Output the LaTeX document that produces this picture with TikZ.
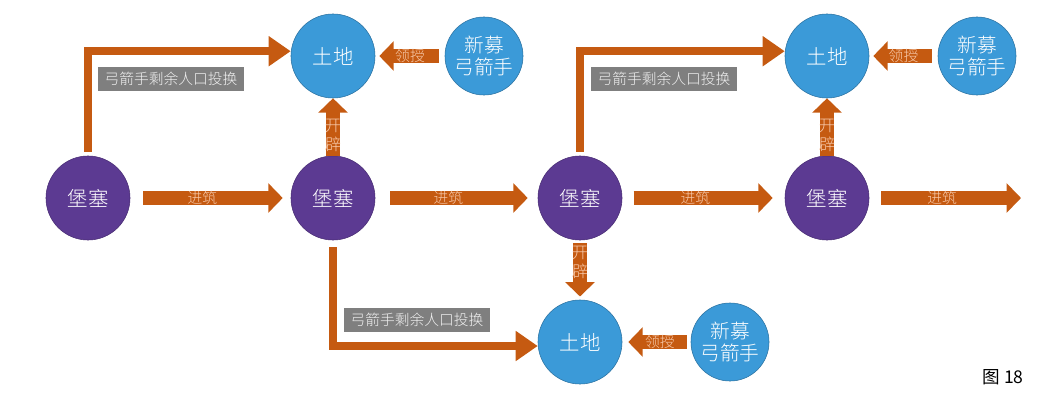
\documentclass[tikz,border=0pt]{standalone}
\usepackage{fontspec}
\setmainfont{Noto Sans CJK SC}[UprightFont={* Light}]
\newfontfamily\capfont{Noto Sans CJK SC}
\usetikzlibrary{arrows.meta}
\definecolor{fortpurple}{HTML}{5C3A92}
\definecolor{landblue}{HTML}{3B9AD8}
\definecolor{arroworange}{HTML}{C55A11}
\definecolor{labelpeach}{HTML}{F8CBAD}
\definecolor{notegray}{HTML}{7F7F7F}
\tikzset{
  fortnode/.style={circle, draw=fortpurple!80!black, fill=fortpurple, text=white,
    minimum size=2.1cm, inner sep=0pt, font=\fontsize{14.5}{16}\selectfont},
  landnode/.style={fortnode, draw=landblue!75!black, fill=landblue},
  recruitnode/.style={landnode, minimum size=1.95cm, align=center,
    font=\fontsize{14}{16}\selectfont},
  blockarr/.style={-{Triangle[length=0.36cm,width=0.72cm]}, line width=0.35cm, draw=arroworange},
  bentarr/.style={-{Triangle[length=0.55cm,width=0.72cm]}, line width=0.2cm, draw=arroworange},
  arrlabel/.style={text=labelpeach, font=\fontsize{10.5}{12}\selectfont, inner sep=0pt, align=center},
  openlabel/.style={arrlabel, font=\fontsize{11.5}{13.5}\selectfont},
  notebox/.style={fill=notegray, text=white!88!gray, minimum width=3.65cm, minimum height=0.6cm,
    inner sep=0pt, font=\fontsize{10.5}{12}\selectfont}
}
\begin{document}
\begin{tikzpicture}[x=0.025cm, y=-0.025cm]
    \useasboundingbox (0,0) rectangle (1045,402);
    % fortresses
    \node[fortnode] (fort1) at (88,198) {堡塞};
    \node[fortnode] (fort2) at (333,198) {堡塞};
    \node[fortnode] (fort3) at (580,198) {堡塞};
    \node[fortnode] (fort4) at (827,198) {堡塞};
    % land and recruits
    \node[landnode] (land1) at (333,56) {土地};
    \node[landnode] (land2) at (827,56) {土地};
    \node[landnode] (land3) at (580,342) {土地};
    \node[recruitnode] (recruit1) at (484,56) {新募\\弓箭手};
    \node[recruitnode] (recruit2) at (977,56) {新募\\弓箭手};
    \node[recruitnode] (recruit3) at (730,342) {新募\\弓箭手};
    \coordinate (buildend) at (1021,198);
    % notes
    \node[notebox] (note1) at (171,79) {弓箭手剩余人口投换};
    \node[notebox] (note2) at (664,79) {弓箭手剩余人口投换};
    \node[notebox] (note3) at (417,320) {弓箭手剩余人口投换};
    \node[font=\capfont\fontsize{12.5}{14}\selectfont] (caption) at (1003,377) {图 18};
    % build
    \draw[blockarr, shorten <=0.33cm, shorten >=0.2cm] (fort1) -- node[arrlabel, pos=0.45] {进筑} (fort2);
    \draw[blockarr, shorten <=0.37cm, shorten >=0.25cm] (fort2) -- node[arrlabel, pos=0.45] {进筑} (fort3);
    \draw[blockarr, shorten <=0.28cm, shorten >=0.3cm] (fort3) -- node[arrlabel, pos=0.45] {进筑} (fort4);
    \draw[blockarr, shorten <=0.3cm] (fort4) -- node[arrlabel, pos=0.48] {进筑} (buildend);
    % open up
    \draw[blockarr] (fort2) -- node[openlabel, pos=0.35] {开\\辟} (land1);
    \draw[blockarr] (fort4) -- node[openlabel, pos=0.35] {开\\辟} (land2);
    \draw[blockarr, shorten <=0.08cm, shorten >=0.08cm] (fort3) -- node[openlabel, pos=0.37] {开\\辟} (land3);
    % grant
    \draw[blockarr, shorten <=0.15cm, shorten >=0.1cm] (recruit1) -- node[arrlabel] {领授} (land1);
    \draw[blockarr, shorten <=0.15cm, shorten >=0.1cm] (recruit2) -- node[arrlabel] {领授} (land2);
    \draw[blockarr, shorten <=0.1cm, shorten >=0.15cm] (recruit3) -- node[arrlabel, pos=0.45] {领授} (land3);
    % surplus archers
    \draw[bentarr, shorten <=0.1cm] (fort1) |- ([yshift=0.12cm]land1.west);
    \draw[bentarr, shorten <=0.1cm] (fort3) |- ([yshift=0.12cm]land2.west);
    \draw[bentarr, shorten <=0.17cm] (fort2) |- ([yshift=-0.1cm]land3.west);
  \end{tikzpicture}
\end{document}
